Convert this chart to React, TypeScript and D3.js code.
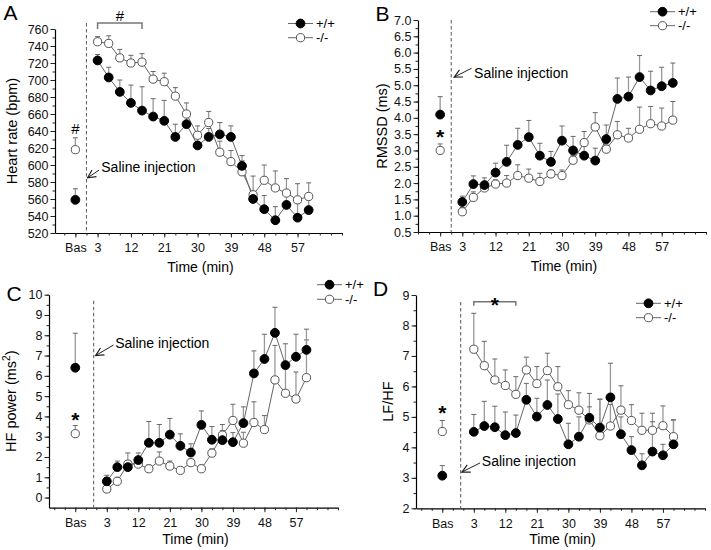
import { useEffect, useRef } from 'react';
import * as d3 from 'd3';

const FONT = '"Liberation Sans", Arial, Helvetica, sans-serif';

// time points after injection (min) and labelled ticks
const minutes = [3, 6, 9, 12, 15, 18, 21, 24, 27, 30, 33, 36, 39, 42, 45, 48, 51, 54, 57, 60];
const timeTickLabels = [3, 12, 21, 30, 39, 48, 57];
const seriesNames = ['+/+', '-/-'];

// A - heart rate (bpm): mean and top of error bar
const hrBaseline = [559, 618];
const hrBaselineUpper = [572, 632];
const hrWT = [723, 703, 686, 673, 664, 657, 652, 633, 648, 623, 633, 636, 633, 599, 560, 548, 535, 553, 538, 547];
const hrWTUpper = [730, 715, 700, 694, 692, 678, 676, 648, 660, 633, 643, 650, 646, 611, 566, 564, 551, 567, 555, 559];
const hrKO = [745, 743, 726, 720, 721, 701, 698, 681, 660, 635, 650, 615, 604, 592, 565, 582, 573, 567, 559, 563];
const hrKOUpper = [751, 752, 736, 729, 731, 710, 708, 691, 673, 646, 663, 628, 617, 605, 587, 600, 593, 584, 578, 579];

// B - RMSSD (ms)
const rmssdBaseline = [4.1, 3.0];
const rmssdBaselineUpper = [4.65, 3.2];
const rmssdWT = [1.42, 1.97, 1.94, 2.32, 2.65, 3.17, 3.41, 2.84, 2.65, 3.3, 3.0, 2.84, 2.69, 3.35, 4.58, 4.65, 5.25, 4.84, 4.97, 5.07];
const rmssdWTUpper = [1.6, 2.22, 2.16, 2.61, 3.16, 3.68, 3.92, 3.22, 2.97, 3.75, 3.43, 3.2, 3.07, 3.78, 5.22, 5.25, 5.91, 5.43, 5.55, 5.68];
const rmssdKO = [1.12, 1.56, 1.85, 1.97, 2.0, 2.23, 2.15, 2.05, 2.28, 2.23, 2.7, 3.24, 3.72, 3.04, 3.48, 3.38, 3.65, 3.82, 3.75, 3.93];
const rmssdKOUpper = [1.25, 1.73, 1.95, 2.1, 2.23, 2.56, 2.43, 2.3, 2.4, 2.4, 2.85, 3.58, 4.16, 3.2, 3.89, 3.68, 4.33, 4.35, 4.3, 4.5];

// C - HF power (ms2)
const hfBaseline = [6.4, 3.15];
const hfBaselineUpper = [8.1, 3.55];
const hfWT = [0.8, 1.5, 1.5, 1.85, 2.7, 2.7, 3.1, 2.55, 2.22, 3.58, 2.85, 2.83, 2.73, 3.67, 6.12, 6.83, 8.12, 6.53, 6.94, 7.28];
const hfWTUpper = [1.1, 1.8, 2.2, 2.2, 3.75, 3.6, 3.9, 3.14, 2.65, 4.27, 3.5, 3.3, 3.2, 4.47, 7.23, 8.05, 9.38, 7.58, 8.05, 8.3];
const hfKO = [0.42, 0.8, 1.65, 1.65, 1.42, 1.8, 1.55, 1.34, 1.72, 1.42, 2.19, 3.08, 3.8, 2.68, 3.7, 3.35, 5.8, 5.14, 4.86, 5.91];
const hfKOUpper = [0.55, 1.0, 1.8, 1.8, 1.6, 2.25, 1.8, 1.5, 1.9, 1.6, 2.4, 3.6, 4.6, 3.22, 4.72, 4.04, 7.5, 6.6, 6.19, 7.77];

// D - LF/HF
const lfhfBaseline = [3.07, 4.52];
const lfhfBaselineUpper = [3.4, 4.88];
const lfhfWT = [4.51, 4.7, 4.66, 4.4, 4.47, 5.56, 5.01, 5.39, 4.93, 4.1, 4.35, 4.97, 4.65, 5.64, 4.43, 3.91, 3.41, 3.86, 3.74, 4.1];
const lfhfWTUpper = [5.08, 5.51, 5.35, 5.16, 5.06, 6.1, 5.61, 6.21, 5.75, 4.79, 5.0, 5.33, 5.58, 6.76, 5.0, 4.35, 3.79, 4.84, 4.1, 4.9];
const lfhfKO = [7.22, 6.68, 6.21, 6.03, 5.74, 6.54, 6.09, 6.52, 5.99, 5.4, 5.22, 4.9, 4.38, 4.7, 5.22, 4.88, 4.56, 4.56, 4.71, 4.35];
const lfhfKOUpper = [8.4, 7.48, 6.9, 6.54, 6.32, 6.96, 6.65, 7.09, 6.65, 5.86, 5.79, 5.77, 5.58, 5.41, 6.02, 5.4, 5.12, 5.12, 5.36, 4.9];

// y tick labels per panel
const hrTicks = [520, 540, 560, 580, 600, 620, 640, 660, 680, 700, 720, 740, 760];
const rmssdTicks = [0.5, 1.0, 1.5, 2.0, 2.5, 3.0, 3.5, 4.0, 4.5, 5.0, 5.5, 6.0, 6.5, 7.0];
const hfTicks = [0, 1, 2, 3, 4, 5, 6, 7, 8, 9, 10];
const lfhfTicks = [2, 3, 4, 5, 6, 7, 8, 9];

const panels = [
  {
    letter: 'A', letterPos: [3.5, 19.5], title: ['Heart rate (bpm)'], titleX: 16.5,
    left: 55, right: 342, top: 29, bottom: 233, xDomain: [-8.5, 69], yDomain: [520, 760],
    yTicks: hrTicks, yMinorStep: 10, fmt: (d: number) => `${d}`, basMin: -3, dashMin: 0, dashTop: 767,
    base: hrBaseline, baseUp: hrBaselineUpper, wt: hrWT, wtUp: hrWTUpper, ko: hrKO, koUp: hrKOUpper,
    legend: [288, 23.5, 14.2], saline: { tx: 4.0, ty: 592, ax: 3.4, ay: 594, hx: 0.3, hy: 585 },
    bracket: { from: 3, to: 15, y: 767, drop: 6, label: '#' }, basMark: { label: '#', y: 636 },
    timeDy: 38.5,
  },
  {
    letter: 'B', letterPos: [375.5, 20.5], title: ['RMSSD (ms)'], titleX: 387,
    left: 418, right: 706, top: 20, bottom: 232, xDomain: [-9, 69], yDomain: [0.5, 7.0],
    yTicks: rmssdTicks, yMinorStep: 0.25, fmt: d3.format('.1f'), basMin: -3, dashMin: 0, dashTop: 7.0,
    base: rmssdBaseline, baseUp: rmssdBaselineUpper, wt: rmssdWT, wtUp: rmssdWTUpper, ko: rmssdKO, koUp: rmssdKOUpper,
    legend: [650, 11.7, 14], saline: { tx: 6.2, ty: 5.22, ax: 5.5, ay: 5.52, hx: 0.8, hy: 5.25 },
    bracket: null, basMark: { label: '*', y: 3.23 },
    timeDy: 38.5,
  },
  {
    letter: 'C', letterPos: [6.5, 300.5], title: ['HF power (ms', '2', ')'], titleX: 15.5,
    left: 49, right: 338, top: 294.7, bottom: 507.7, xDomain: [-13.5, 69], yDomain: [-0.5, 10],
    yTicks: hfTicks, yMinorStep: 0.5, fmt: (d: number) => `${d}`, basMin: -6, dashMin: -0.75, dashTop: 9.7,
    base: hfBaseline, baseUp: hfBaselineUpper, wt: hfWT, wtUp: hfWTUpper, ko: hfKO, koUp: hfKOUpper,
    legend: [317, 284.7, 14.6], saline: { tx: 5.4, ty: 7.37, ax: 4.9, ay: 7.52, hx: -0.2, hy: 7.0 },
    bracket: null, basMark: { label: '*', y: 3.53 },
    timeDy: 36,
  },
  {
    letter: 'D', letterPos: [373, 296], title: ['LF/HF'], titleX: 392.5,
    left: 416, right: 705, top: 295, bottom: 508.3, xDomain: [-13.5, 69], yDomain: [2, 9],
    yTicks: lfhfTicks, yMinorStep: 0.5, fmt: (d: number) => `${d}`, basMin: -6, dashMin: -0.75, dashTop: 8.77,
    base: lfhfBaseline, baseUp: lfhfBaselineUpper, wt: lfhfWT, wtUp: lfhfWTUpper, ko: lfhfKO, koUp: lfhfKOUpper,
    legend: [636, 303.3, 14.4], saline: { tx: 5.3, ty: 3.39, ax: 4.8, ay: 3.49, hx: -0.4, hy: 3.19 },
    bracket: { from: 3, to: 15, y: 8.78, drop: 4, label: '*' }, basMark: { label: '*', y: 4.95 },
    timeDy: 36,
  },
];

const drawPanel = (svg: any, p: any) => {
  const x = d3.scaleLinear().domain(p.xDomain).range([p.left, p.right]);
  const y = d3.scaleLinear().domain(p.yDomain).range([p.bottom, p.top]);
  const g = svg.append('g');

  // Y axis: minor then major ticks
  const yMinor = d3.range(p.yTicks[0], p.yTicks[p.yTicks.length - 1] + 1e-9, p.yMinorStep);
  g.append('g')
    .attr('transform', `translate(${p.left},0)`)
    .call(d3.axisLeft(y).tickValues(yMinor).tickSize(2.5).tickFormat(() => '').tickSizeOuter(0))
    .call((a: any) => a.select('.domain').remove());
  g.append('g')
    .attr('transform', `translate(${p.left},0)`)
    .call(d3.axisLeft(y).tickValues(p.yTicks).tickSize(4.5).tickPadding(2).tickFormat(p.fmt).tickSizeOuter(0))
    .call((a: any) => a.select('.domain').attr('stroke-width', 1.2))
    .call((a: any) => a.selectAll('text').style('font-size', '12.5px').style('font-family', FONT).attr('fill', '#111'));

  // X axis: minor ticks every 3 min, major at labels and baseline
  const xMinor = d3.range(Math.ceil(p.xDomain[0] / 3) * 3, p.xDomain[1] + 1e-9, 3);
  const xMajor = [p.basMin, ...timeTickLabels];
  g.append('g')
    .attr('transform', `translate(0,${p.bottom})`)
    .call(d3.axisBottom(x).tickValues(xMinor).tickSize(2.5).tickFormat(() => '').tickSizeOuter(0))
    .call((a: any) => a.select('.domain').attr('stroke-width', 1.2));
  g.append('g')
    .attr('transform', `translate(0,${p.bottom})`)
    .call(d3.axisBottom(x).tickValues(xMajor).tickSize(4.5).tickPadding(6)
      .tickFormat((d: any) => (d === p.basMin ? 'Bas' : `${d}`)).tickSizeOuter(0))
    .call((a: any) => a.select('.domain').remove())
    .call((a: any) => a.selectAll('text').style('font-size', '12.5px').style('font-family', FONT).attr('fill', '#111'));

  g.selectAll('.tick line').attr('stroke', '#222');

  // axis titles
  g.append('text')
    .attr('x', (p.left + p.right) / 2 + 2)
    .attr('y', p.bottom + p.timeDy)
    .attr('text-anchor', 'middle')
    .style('font-size', '14px')
    .style('font-family', FONT)
    .text('Time (min)');

  const yt = g.append('text')
    .attr('transform', `translate(${p.titleX},${(p.top + p.bottom) / 2}) rotate(-90)`)
    .attr('text-anchor', 'middle')
    .style('font-size', '14.5px')
    .style('font-family', FONT);
  yt.append('tspan').text(p.title[0]);
  if (p.title.length > 1) {
    yt.append('tspan').attr('dy', -6).style('font-size', '10px').text(p.title[1]);
    yt.append('tspan').attr('dy', 6).text(p.title[2]);
  }

  // panel letter
  g.append('text')
    .attr('x', p.letterPos[0])
    .attr('y', p.letterPos[1])
    .style('font-size', '21px')
    .style('font-family', FONT)
    .text(p.letter);

  // saline injection marker
  g.append('line')
    .attr('x1', x(p.dashMin)).attr('x2', x(p.dashMin))
    .attr('y1', y(p.dashTop)).attr('y2', p.bottom)
    .attr('stroke', '#666')
    .attr('stroke-width', 1.1)
    .attr('stroke-dasharray', '3.5,2.5');

  g.append('text')
    .attr('x', x(p.saline.tx))
    .attr('y', y(p.saline.ty))
    .style('font-size', '14px')
    .style('font-family', FONT)
    .text('Saline injection');
  g.append('line')
    .attr('x1', x(p.saline.ax)).attr('y1', y(p.saline.ay))
    .attr('x2', x(p.saline.hx)).attr('y2', y(p.saline.hy))
    .attr('stroke', '#222')
    .attr('stroke-width', 1)
    .attr('marker-end', 'url(#arrow)');

  // significance marks
  const markSize = (l: string) => (l === '*' ? '21px' : '15px');
  if (p.bracket) {
    const b = p.bracket;
    const by = y(b.y);
    g.append('path')
      .attr('d', `M${x(b.from)},${by + b.drop}V${by}H${x(b.to)}V${by + b.drop}`)
      .attr('fill', 'none')
      .attr('stroke', '#777')
      .attr('stroke-width', 1.5);
    g.append('text')
      .attr('x', x((b.from + b.to) / 2))
      .attr('y', b.label === '*' ? by + 10 : by - 2)
      .attr('text-anchor', 'middle')
      .style('font-size', markSize(b.label))
      .style('font-weight', b.label === '*' ? 'bold' : 'normal')
      .style('font-family', FONT)
      .text(b.label);
  }
  g.append('text')
    .attr('x', x(p.basMin))
    .attr('y', y(p.basMark.y) + (p.basMark.label === '*' ? 1.5 : 0))
    .attr('text-anchor', 'middle')
    .style('font-size', markSize(p.basMark.label))
    .style('font-weight', p.basMark.label === '*' ? 'bold' : 'normal')
    .style('font-family', FONT)
    .text(p.basMark.label);

  // series
  const series = [
    { mean: p.ko, up: p.koUp, filled: false, bi: 1 },
    { mean: p.wt, up: p.wtUp, filled: true, bi: 0 },
  ];
  const line = d3.line<number>().x((_, i) => x(minutes[i])).y(d => y(d));

  series.forEach(s => {
    g.append('path')
      .datum(s.mean)
      .attr('d', line)
      .attr('fill', 'none')
      .attr('stroke', '#666')
      .attr('stroke-width', 1);
  });

  series.forEach(s => {
    const pts = minutes.map((m, i) => ({ m, v: s.mean[i], u: s.up[i] }));
    pts.push({ m: p.basMin, v: p.base[s.bi], u: p.baseUp[s.bi] });
    const eb = g.append('g');
    eb.selectAll('line.bar')
      .data(pts)
      .enter()
      .append('line')
      .attr('x1', d => x(d.m)).attr('x2', d => x(d.m))
      .attr('y1', d => y(d.v)).attr('y2', d => y(d.u))
      .attr('stroke', '#999')
      .attr('stroke-width', 1.3);
    eb.selectAll('line.cap')
      .data(pts)
      .enter()
      .append('line')
      .attr('x1', d => x(d.m) - 2.5).attr('x2', d => x(d.m) + 2.5)
      .attr('y1', d => y(d.u)).attr('y2', d => y(d.u))
      .attr('stroke', '#666')
      .attr('stroke-width', 1);
  });

  series.forEach(s => {
    const pts = minutes.map((m, i) => ({ m, v: s.mean[i] }));
    pts.push({ m: p.basMin, v: p.base[s.bi] });
    g.append('g')
      .selectAll('circle')
      .data(pts)
      .enter()
      .append('circle')
      .attr('cx', d => x(d.m))
      .attr('cy', d => y(d.v))
      .attr('r', s.filled ? 4.4 : 4.1)
      .attr('fill', s.filled ? '#000' : '#fff')
      .attr('stroke', s.filled ? '#000' : '#555')
      .attr('stroke-width', 1);
  });

  // legend
  const [lx, ly, dy] = p.legend;
  seriesNames.forEach((name, i) => {
    const yy = ly + i * dy;
    g.append('line')
      .attr('x1', lx).attr('x2', lx + 25)
      .attr('y1', yy).attr('y2', yy)
      .attr('stroke', '#666')
      .attr('stroke-width', 1);
    g.append('circle')
      .attr('cx', lx + 12.5)
      .attr('cy', yy)
      .attr('r', i === 0 ? 4.4 : 4.1)
      .attr('fill', i === 0 ? '#000' : '#fff')
      .attr('stroke', i === 0 ? '#000' : '#555');
    g.append('text')
      .attr('x', lx + 28)
      .attr('y', yy + 4.5)
      .style('font-size', '13px')
      .style('font-family', FONT)
      .text(name);
  });
};

export default function App() {
  const ref = useRef<SVGSVGElement>(null);

  useEffect(() => {
    const svg = d3.select(ref.current);
    svg.selectAll('*').remove();

    svg.append('defs')
      .append('marker')
      .attr('id', 'arrow')
      .attr('viewBox', '0 0 10 10')
      .attr('refX', 9)
      .attr('refY', 5)
      .attr('markerWidth', 10)
      .attr('markerHeight', 10)
      .attr('markerUnits', 'userSpaceOnUse')
      .attr('orient', 'auto')
      .append('path')
      .attr('d', 'M1,1 L9,5 L1,9')
      .attr('fill', 'none')
      .attr('stroke', '#222')
      .attr('stroke-width', 1.2);

    panels.forEach(p => drawPanel(svg, p));
  }, []);

  return (
    <svg
      ref={ref}
      width={711}
      height={550}
      style={{ position: 'absolute', left: 0, top: 0, background: '#fff' }}
    />
  );
}
